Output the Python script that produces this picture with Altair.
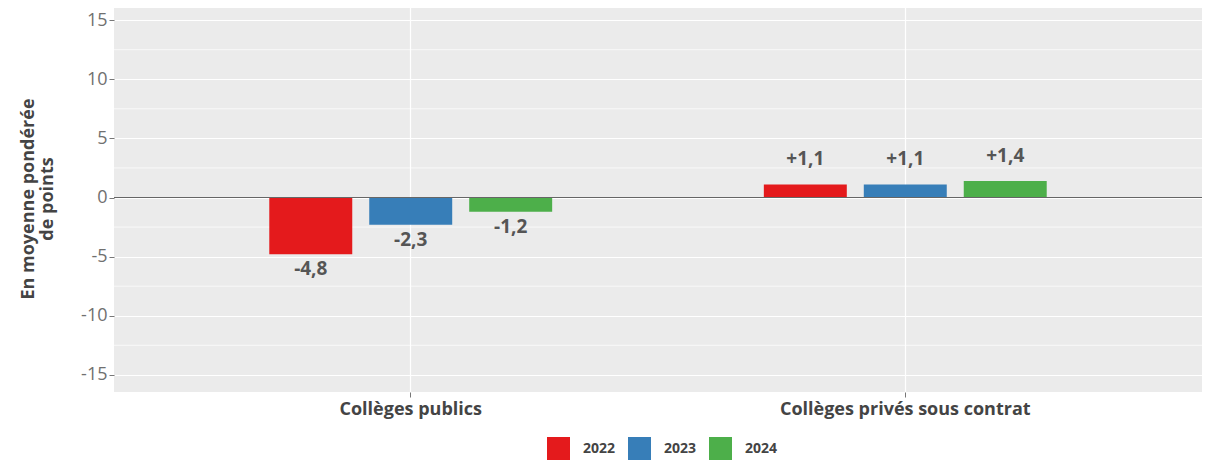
import altair as alt
import pandas as pd

categories = ["Collèges publics", "Collèges privés sous contrat"]
years = ["2022", "2023", "2024"]
publics = [-4.8, -2.3, -1.2]
prives = [1.1, 1.1, 1.4]
labels_publics = ["-4,8", "-2,3", "-1,2"]
labels_prives = ["+1,1", "+1,1", "+1,4"]
colors = ["#E41A1C", "#377EB8", "#4DAF4A"]
major_ticks = [-15, -10, -5, 0, 5, 10, 15]
minor_grid = [-12.5, -7.5, -2.5, 2.5, 7.5, 12.5]
zero_line = [0]
y_title_lines = ["En moyenne pondérée", "de points"]

rows = []
for cat, vals, labs in [(categories[0], publics, labels_publics),
                        (categories[1], prives, labels_prives)]:
    for yr, v, lab in zip(years, vals, labs):
        rows.append(dict(cat=cat, year=yr, value=v, label=lab))
df = pd.DataFrame(rows)

FONT = "Open Sans"
ydom = [-16.45, 16.45]
xscale = alt.Scale(domain=categories, paddingInner=0.428, paddingOuter=0.314)
yscale = alt.Scale(domain=ydom, nice=False, zero=False)
xoff = alt.XOffset("year:N", scale=alt.Scale(domain=years, paddingInner=0.17, paddingOuter=0))

x_enc = alt.X("cat:N", scale=xscale, sort=categories,
              axis=alt.Axis(title=None, labelAngle=0, labelFontSize=18, labelFontWeight="bold",
                            labelColor="#444444", labelFont=FONT, tickColor="#777777", tickSize=5,
                            domain=False, labelPadding=3, labelLimit=0, grid=True,
                            gridColor="white", gridWidth=1.2, bandPosition=0.5))
y_enc = alt.Y("value:Q", scale=yscale,
              axis=alt.Axis(values=major_ticks, title=None,
                            labelExpr="'' + datum.value",
                            labelFontSize=18, labelColor="#707070", labelFont=FONT,
                            tickColor="#777777", tickSize=5, domain=False, labelPadding=2,
                            grid=True, gridColor="white", gridWidth=1.2))

minor = alt.Chart(pd.DataFrame({"v": minor_grid})).mark_rule(color="white", strokeWidth=0.7).encode(
    y=alt.Y("v:Q", scale=yscale))

bars = alt.Chart(df).mark_bar().encode(
    x=x_enc, y=y_enc, xOffset=xoff,
    color=alt.Color("year:N", scale=alt.Scale(domain=years, range=colors),
                    legend=alt.Legend(title=None, orient="none", legendX=433, legendY=434,
                                      direction="horizontal",
                                      symbolType="square", symbolSize=529, symbolStrokeWidth=0,
                                      symbolOpacity=1, labelFontSize=14, labelFontWeight="bold",
                                      labelColor="#444444", labelFont=FONT, columnPadding=12,
                                      labelOffset=13)))

zero = alt.Chart(pd.DataFrame({"z": zero_line})).mark_rule(color="#666666", strokeWidth=1).encode(
    y=alt.Y("z:Q", scale=yscale))

txt_pos = alt.Chart(df).transform_filter("datum.value > 0").mark_text(
    dy=-25, fontSize=19, fontWeight="bold", color="#555555", font=FONT, baseline="middle").encode(
    x=alt.X("cat:N", scale=xscale, sort=categories), xOffset=xoff,
    y=alt.Y("value:Q", scale=yscale), text="label:N")

txt_neg = alt.Chart(df).transform_filter("datum.value < 0").mark_text(
    dy=15, fontSize=19, fontWeight="bold", color="#555555", font=FONT, baseline="middle").encode(
    x=alt.X("cat:N", scale=xscale, sort=categories), xOffset=xoff,
    y=alt.Y("value:Q", scale=yscale), text="label:N")

title_style = dict(angle=270, align="center", baseline="middle", fontSize=18,
                   fontWeight="bold", color="#444444", font=FONT)
ytitle1 = alt.Chart(pd.DataFrame({"t": [y_title_lines[0]]})).mark_text(**title_style).encode(
    text="t:N", x=alt.value(-85), y=alt.value(196))
ytitle2 = alt.Chart(pd.DataFrame({"t": [y_title_lines[1]]})).mark_text(**title_style).encode(
    text="t:N", x=alt.value(-66), y=alt.value(196))

chart = alt.layer(minor, bars, zero, txt_pos, txt_neg, ytitle1, ytitle2).properties(
    width=1088, height=389,
    padding={"left": 12, "top": -5, "right": 0, "bottom": 0},
    background="white",
).configure(font=FONT).configure_view(fill="#EBEBEB", strokeWidth=0)

chart.save("out.html", embed_options={"renderer": "svg", "actions": False})
